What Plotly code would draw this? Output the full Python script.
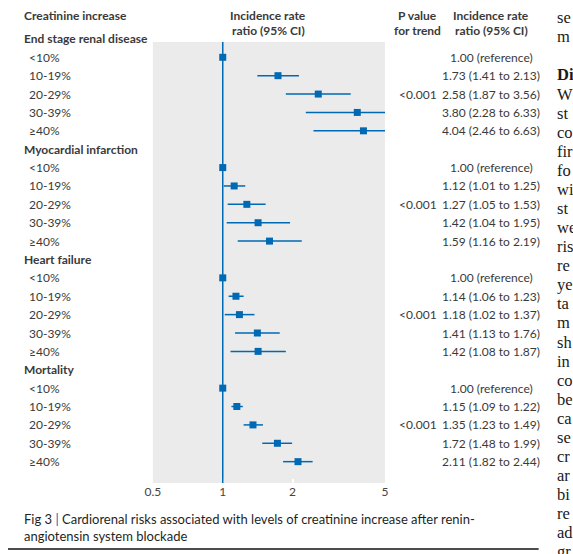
import plotly.graph_objects as go

W, H = 573, 554
FONT = "Lato"
TXT = "#3a3a3a"
BLUE = "#0069b4"

groups = ["End stage renal disease", "Myocardial infarction", "Heart failure", "Mortality"]
levels = ["<10%", "10-19%", "20-29%", "30-39%", "≥40%"]

esrd_est = [1.00, 1.73, 2.58, 3.80, 4.04]
esrd_lo = [None, 1.41, 1.87, 2.28, 2.46]
esrd_hi = [None, 2.13, 3.56, 6.33, 6.63]

mi_est = [1.00, 1.12, 1.27, 1.42, 1.59]
mi_lo = [None, 1.01, 1.05, 1.04, 1.16]
mi_hi = [None, 1.25, 1.53, 1.95, 2.19]

hf_est = [1.00, 1.14, 1.18, 1.41, 1.42]
hf_lo = [None, 1.06, 1.02, 1.13, 1.08]
hf_hi = [None, 1.23, 1.37, 1.76, 1.87]

mort_est = [1.00, 1.15, 1.35, 1.72, 2.11]
mort_lo = [None, 1.09, 1.23, 1.48, 1.82]
mort_hi = [None, 1.22, 1.49, 1.99, 2.44]

p_trend = ["<0.001", "<0.001", "<0.001", "<0.001"]

tick_vals = [0.5, 1, 2, 5]
tick_text = ["0.5", "1", "2", "5"]
x_min, x_max = 0.5, 5

side_text = ["se", "m", "", "<b>Di</b>", "W", "st", "co", "fir", "fo", "wi", "st", "we", "ris",
             "re", "ye", "ta", "m", "sh", "in", "co", "be", "ca", "se", "cr", "ar", "bi",
             "re", "ad", "gr"]

caption = ("Fig 3 <span style='color:%s'>|</span> Cardiorenal risks associated with levels of "
           "creatinine increase after renin-<br>angiotensin system blockade") % BLUE

ests = [esrd_est, mi_est, hf_est, mort_est]
los = [esrd_lo, mi_lo, hf_lo, mort_lo]
his = [esrd_hi, mi_hi, hf_hi, mort_hi]

# ---------- layout helpers (pixel -> paper) ----------
def px(x):
    return x / W

def py(y):
    return 1 - y / H

ROW0, PITCH = 57.3, 18.38
plot_top, plot_bot = 42, 483
plot_left, plot_right = 148, 385
y_range = [(plot_bot - ROW0) / PITCH, (plot_top - ROW0) / PITCH]

def rowy(k):
    return py(ROW0 + k * PITCH)

fig = go.Figure()

annotations = []
line_x, line_y = [], []
pt_x, pt_y = [], []

for g, name in enumerate(groups):
    hk = 6 * g - 1
    annotations.append(dict(x=px(14), y=rowy(hk), xref="paper", yref="paper",
                            text="<b>%s</b>" % name,
                            showarrow=False, xanchor="left", yanchor="middle",
                            font=dict(size=12, color=TXT, family=FONT)))
    for j, lab in enumerate(levels):
        k = 6 * g + j
        est, lo, hi = ests[g][j], los[g][j], his[g][j]
        pt_x.append(est)
        pt_y.append(k)
        if lo is not None:
            line_x += [lo, hi, None]
            line_y += [k, k, None]
            if hi > x_max:
                annotations.append(dict(x=x_max, y=k, xref="x", yref="y", text="",
                                        showarrow=True, arrowhead=2, arrowsize=1,
                                        arrowwidth=1.5, arrowcolor=BLUE, ax=-9, ay=0,
                                        standoff=0))
            val = "%.2f (%.2f to %.2f)" % (est, lo, hi)
        else:
            val = "1.00 (reference)"
        annotations.append(dict(x=px(19), y=rowy(k), xref="paper", yref="paper",
                                text=lab.replace("<", "&lt;"),
                                showarrow=False, xanchor="left", yanchor="middle",
                                font=dict(size=12, color=TXT, family=FONT)))
        annotations.append(dict(x=px(493.5), y=rowy(k), xref="paper", yref="paper", text=val,
                                showarrow=False, xanchor="center", yanchor="middle",
                                font=dict(size=12, color=TXT, family=FONT)))
        if j == 2:
            annotations.append(dict(x=px(418.5), y=rowy(k), xref="paper", yref="paper",
                                    text=p_trend[g].replace("<", "&lt;"),
                                    showarrow=False, xanchor="center", yanchor="middle",
                                    font=dict(size=12, color=TXT, family=FONT)))

# column headers
annotations.append(dict(x=px(14), y=py(16), xref="paper", yref="paper",
                        text="<b>Creatinine increase</b>", showarrow=False,
                        xanchor="left", yanchor="middle",
                        font=dict(size=12, color=TXT, family=FONT)))
for cx, l1, l2 in [(266, "Incidence rate", "ratio (95% CI)"), (418.5, "P value", "for trend"),
                   (493.5, "Incidence rate", "ratio (95% CI)")]:
    for yy, t in [(16, l1), (30.5, l2)]:
        annotations.append(dict(x=px(cx), y=py(yy), xref="paper", yref="paper",
                                text="<b>%s</b>" % t, showarrow=False,
                                xanchor="center", yanchor="middle",
                                font=dict(size=12, color=TXT, family=FONT)))

# caption
annotations.append(dict(x=px(14), y=py(527.5), xref="paper", yref="paper", text=caption,
                        showarrow=False, xanchor="left", yanchor="middle", align="left",
                        font=dict(size=13, color="#1f1f1f", family=FONT)))

# neighbouring article column (cropped)
for i, t in enumerate(side_text):
    if not t:
        continue
    annotations.append(dict(x=px(559), y=py(17.7 + 19.08 * i), xref="paper", yref="paper",
                            text=t, showarrow=False, xanchor="left", yanchor="middle",
                            font=dict(size=16.5, color="#1a1a1a", family="Liberation Serif")))

fig.add_trace(go.Scatter(x=line_x, y=line_y, mode="lines",
                         line=dict(color=BLUE, width=1.5), hoverinfo="skip", showlegend=False))
fig.add_trace(go.Scatter(x=pt_x, y=pt_y, mode="markers",
                         marker=dict(symbol="square", size=7, color=BLUE),
                         cliponaxis=False, showlegend=False))

shapes = [
    dict(type="line", xref="x", yref="y domain", x0=1, x1=1, y0=0, y1=1,
         line=dict(color=BLUE, width=1.5), layer="above"),
    dict(type="line", xref="paper", yref="paper", x0=0, x1=px(542), y0=py(549), y1=py(549),
         line=dict(color="#111111", width=1.3)),
]

fig.update_layout(
    width=W, height=H,
    margin=dict(l=0, r=0, t=0, b=0),
    paper_bgcolor="white", plot_bgcolor="#ebebeb",
    font=dict(family=FONT, color=TXT),
    annotations=annotations, shapes=shapes,
    xaxis=dict(type="log", range=[-0.30103, 0.69897], domain=[px(plot_left), px(plot_right)],
               tickvals=tick_vals, ticktext=tick_text, showgrid=False, zeroline=False,
               showline=False, ticks="inside", tickcolor="white", ticklen=4, tickwidth=1.5,
               tickfont=dict(size=12, color="#444444", family=FONT), fixedrange=True),
    yaxis=dict(range=y_range, domain=[py(plot_bot), py(plot_top)], visible=False,
               showgrid=False, zeroline=False, fixedrange=True),
    showlegend=False,
)

fig.write_html("out.html", config={"displayModeBar": False},
               post_script="document.body.style.margin='0';document.body.style.overflow='hidden';")
